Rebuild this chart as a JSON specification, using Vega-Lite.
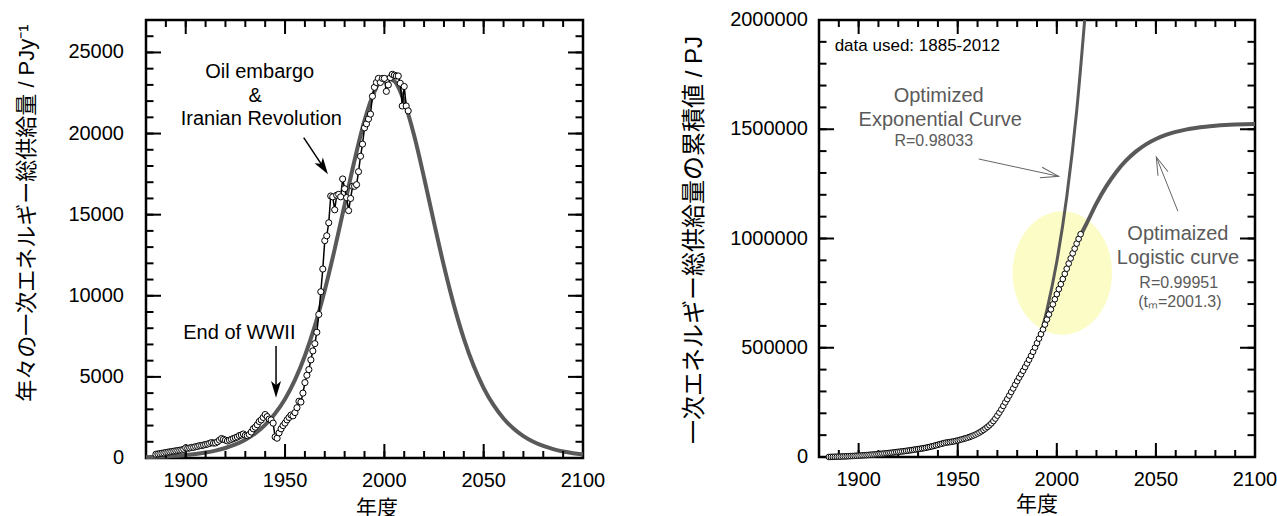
{
  "$schema": "https://vega.github.io/schema/vega-lite/v6.json",
  "padding": {"left": 14, "top": 8, "right": 0, "bottom": 0},
  "bounds": "flush",
  "spacing": 236,
  "config": {
    "view": {"stroke": "black", "strokeWidth": 2.5},
    "text": {"font": "Liberation Sans, Noto Sans CJK JP"},
    "rule": {"color": "black", "strokeWidth": 2}
  },
  "datasets": {
    "xMajor": [{"t":1900},{"t":1950},{"t":2000},{"t":2050}],
    "xMinor": [{"t":1890},{"t":1900},{"t":1910},{"t":1920},{"t":1930},{"t":1940},{"t":1950},{"t":1960},{"t":1970},{"t":1980},{"t":1990},{"t":2000},{"t":2010},{"t":2020},{"t":2030},{"t":2040},{"t":2050},{"t":2060},{"t":2070},{"t":2080},{"t":2090}],
    "yMajL": [{"t":5000},{"t":10000},{"t":15000},{"t":20000},{"t":25000}],
    "yMinL": [{"t":1000},{"t":2000},{"t":3000},{"t":4000},{"t":5000},{"t":6000},{"t":7000},{"t":8000},{"t":9000},{"t":10000},{"t":11000},{"t":12000},{"t":13000},{"t":14000},{"t":15000},{"t":16000},{"t":17000},{"t":18000},{"t":19000},{"t":20000},{"t":21000},{"t":22000},{"t":23000},{"t":24000},{"t":25000},{"t":26000}],
    "yMajR": [{"t":500000},{"t":1000000},{"t":1500000}],
    "yMinR": [{"t":100000},{"t":200000},{"t":300000},{"t":400000},{"t":500000},{"t":600000},{"t":700000},{"t":800000},{"t":900000},{"t":1000000},{"t":1100000},{"t":1200000},{"t":1300000},{"t":1400000},{"t":1500000},{"t":1600000},{"t":1700000},{"t":1800000},{"t":1900000}],
    "xLab": [{"t":1900,"lab":"1900"},{"t":1950,"lab":"1950"},{"t":2000,"lab":"2000"},{"t":2050,"lab":"2050"},{"t":2100,"lab":"2100"}],
    "yLabL": [{"t":0,"lab":"0"},{"t":5000,"lab":"5000"},{"t":10000,"lab":"10000"},{"t":15000,"lab":"15000"},{"t":20000,"lab":"20000"},{"t":25000,"lab":"25000"}],
    "yLabR": [{"t":0,"lab":"0"},{"t":500000,"lab":"500000"},{"t":1000000,"lab":"1000000"},{"t":1500000,"lab":"1500000"},{"t":2000000,"lab":"2000000"}],
    "annual": [
      {"year":1885,"v":230},{"year":1886,"v":250},{"year":1887,"v":270},{"year":1888,"v":290},{"year":1889,"v":310},{"year":1890,"v":340},{"year":1891,"v":360},{"year":1892,"v":380},{"year":1893,"v":400},{"year":1894,"v":420},{"year":1895,"v":440},{"year":1896,"v":460},{"year":1897,"v":480},{"year":1898,"v":500},{"year":1899,"v":540},{"year":1900,"v":620},{"year":1901,"v":600},{"year":1902,"v":620},{"year":1903,"v":650},{"year":1904,"v":660},{"year":1905,"v":700},{"year":1906,"v":720},{"year":1907,"v":760},{"year":1908,"v":770},{"year":1909,"v":800},{"year":1910,"v":830},{"year":1911,"v":860},{"year":1912,"v":900},{"year":1913,"v":950},{"year":1914,"v":920},{"year":1915,"v":930},{"year":1916,"v":1000},{"year":1917,"v":1100},{"year":1918,"v":1200},{"year":1919,"v":1150},{"year":1920,"v":1100},{"year":1921,"v":1050},{"year":1922,"v":1100},{"year":1923,"v":1150},{"year":1924,"v":1200},{"year":1925,"v":1250},{"year":1926,"v":1300},{"year":1927,"v":1380},{"year":1928,"v":1420},{"year":1929,"v":1480},{"year":1930,"v":1400},{"year":1931,"v":1380},{"year":1932,"v":1450},{"year":1933,"v":1600},{"year":1934,"v":1800},{"year":1935,"v":1900},{"year":1936,"v":2050},{"year":1937,"v":2250},{"year":1938,"v":2350},{"year":1939,"v":2500},{"year":1940,"v":2680},{"year":1941,"v":2550},{"year":1942,"v":2400},{"year":1943,"v":2350},{"year":1944,"v":2150},{"year":1945,"v":1300},{"year":1946,"v":1220},{"year":1947,"v":1550},{"year":1948,"v":1800},{"year":1949,"v":2000},{"year":1950,"v":2150},{"year":1951,"v":2350},{"year":1952,"v":2500},{"year":1953,"v":2650},{"year":1954,"v":2600},{"year":1955,"v":2800},{"year":1956,"v":3100},{"year":1957,"v":3500},{"year":1958,"v":3450},{"year":1959,"v":4000},{"year":1960,"v":4650},{"year":1961,"v":5100},{"year":1962,"v":5450},{"year":1963,"v":6050},{"year":1964,"v":6600},{"year":1965,"v":7050},{"year":1966,"v":7750},{"year":1967,"v":8850},{"year":1968,"v":10250},{"year":1969,"v":11650},{"year":1970,"v":13400},{"year":1971,"v":13700},{"year":1972,"v":14500},{"year":1973,"v":16150},{"year":1974,"v":16100},{"year":1975,"v":15300},{"year":1976,"v":16200},{"year":1977,"v":16250},{"year":1978,"v":16100},{"year":1979,"v":17200},{"year":1980,"v":16600},{"year":1981,"v":16050},{"year":1982,"v":15250},{"year":1983,"v":16000},{"year":1984,"v":16750},{"year":1985,"v":16750},{"year":1986,"v":16850},{"year":1987,"v":17650},{"year":1988,"v":18600},{"year":1989,"v":19350},{"year":1990,"v":20350},{"year":1991,"v":20600},{"year":1992,"v":20900},{"year":1993,"v":21200},{"year":1994,"v":22300},{"year":1995,"v":22850},{"year":1996,"v":23150},{"year":1997,"v":23400},{"year":1998,"v":23150},{"year":1999,"v":23400},{"year":2000,"v":23400},{"year":2001,"v":22600},{"year":2002,"v":23000},{"year":2003,"v":23450},{"year":2004,"v":23650},{"year":2005,"v":23600},{"year":2006,"v":23550},{"year":2007,"v":23550},{"year":2008,"v":23100},{"year":2009,"v":21700},{"year":2010,"v":22900},{"year":2011,"v":21700},{"year":2012,"v":21400}
    ],
    "fitL": [
      {"year":1880,"v":53},{"year":1885,"v":73},{"year":1890,"v":99},{"year":1895,"v":134},{"year":1900,"v":182},{"year":1905,"v":247},{"year":1910,"v":336},{"year":1915,"v":455},{"year":1920,"v":617},{"year":1925,"v":836},{"year":1930,"v":1129},{"year":1935,"v":1522},{"year":1940,"v":2046},{"year":1945,"v":2740},{"year":1950,"v":3643},{"year":1955,"v":4816},{"year":1960,"v":6305},{"year":1965,"v":8146},{"year":1970,"v":10347},{"year":1975,"v":12877},{"year":1980,"v":15620},{"year":1985,"v":18356},{"year":1990,"v":20797},{"year":1995,"v":22590},{"year":2000,"v":23450},{"year":2005,"v":23230},{"year":2010,"v":21965},{"year":2015,"v":19873},{"year":2020,"v":17277},{"year":2025,"v":14510},{"year":2030,"v":11832},{"year":2035,"v":9423},{"year":2040,"v":7362},{"year":2045,"v":5668},{"year":2050,"v":4313},{"year":2055,"v":3254},{"year":2060,"v":2439},{"year":2065,"v":1819},{"year":2070,"v":1352},{"year":2075,"v":1001},{"year":2080,"v":741},{"year":2085,"v":547},{"year":2090,"v":403},{"year":2095,"v":297},{"year":2100,"v":219}
    ],
    "cum": [
      {"year":1885,"c":230},{"year":1886,"c":480},{"year":1887,"c":750},{"year":1888,"c":1040},{"year":1889,"c":1350},{"year":1890,"c":1690},{"year":1891,"c":2050},{"year":1892,"c":2430},{"year":1893,"c":2830},{"year":1894,"c":3250},{"year":1895,"c":3690},{"year":1896,"c":4150},{"year":1897,"c":4630},{"year":1898,"c":5130},{"year":1899,"c":5670},{"year":1900,"c":6290},{"year":1901,"c":6890},{"year":1902,"c":7510},{"year":1903,"c":8160},{"year":1904,"c":8820},{"year":1905,"c":9520},{"year":1906,"c":10240},{"year":1907,"c":11000},{"year":1908,"c":11770},{"year":1909,"c":12570},{"year":1910,"c":13400},{"year":1911,"c":14260},{"year":1912,"c":15160},{"year":1913,"c":16110},{"year":1914,"c":17030},{"year":1915,"c":17960},{"year":1916,"c":18960},{"year":1917,"c":20060},{"year":1918,"c":21260},{"year":1919,"c":22410},{"year":1920,"c":23510},{"year":1921,"c":24560},{"year":1922,"c":25660},{"year":1923,"c":26810},{"year":1924,"c":28010},{"year":1925,"c":29260},{"year":1926,"c":30560},{"year":1927,"c":31940},{"year":1928,"c":33360},{"year":1929,"c":34840},{"year":1930,"c":36240},{"year":1931,"c":37620},{"year":1932,"c":39070},{"year":1933,"c":40670},{"year":1934,"c":42470},{"year":1935,"c":44370},{"year":1936,"c":46420},{"year":1937,"c":48670},{"year":1938,"c":51020},{"year":1939,"c":53520},{"year":1940,"c":56200},{"year":1941,"c":58750},{"year":1942,"c":61150},{"year":1943,"c":63500},{"year":1944,"c":65650},{"year":1945,"c":66950},{"year":1946,"c":68170},{"year":1947,"c":69720},{"year":1948,"c":71520},{"year":1949,"c":73520},{"year":1950,"c":75670},{"year":1951,"c":78020},{"year":1952,"c":80520},{"year":1953,"c":83170},{"year":1954,"c":85770},{"year":1955,"c":88570},{"year":1956,"c":91670},{"year":1957,"c":95170},{"year":1958,"c":98620},{"year":1959,"c":102620},{"year":1960,"c":107270},{"year":1961,"c":112370},{"year":1962,"c":117820},{"year":1963,"c":123870},{"year":1964,"c":130470},{"year":1965,"c":137520},{"year":1966,"c":145270},{"year":1967,"c":154120},{"year":1968,"c":164370},{"year":1969,"c":176020},{"year":1970,"c":189420},{"year":1971,"c":203120},{"year":1972,"c":217620},{"year":1973,"c":233770},{"year":1974,"c":249870},{"year":1975,"c":265170},{"year":1976,"c":281370},{"year":1977,"c":297620},{"year":1978,"c":313720},{"year":1979,"c":330920},{"year":1980,"c":347520},{"year":1981,"c":363570},{"year":1982,"c":378820},{"year":1983,"c":394820},{"year":1984,"c":411570},{"year":1985,"c":428320},{"year":1986,"c":445170},{"year":1987,"c":462820},{"year":1988,"c":481420},{"year":1989,"c":500770},{"year":1990,"c":521120},{"year":1991,"c":541720},{"year":1992,"c":562620},{"year":1993,"c":583820},{"year":1994,"c":606120},{"year":1995,"c":628970},{"year":1996,"c":652120},{"year":1997,"c":675520},{"year":1998,"c":698670},{"year":1999,"c":722070},{"year":2000,"c":745470},{"year":2001,"c":768070},{"year":2002,"c":791070},{"year":2003,"c":814520},{"year":2004,"c":838170},{"year":2005,"c":861770},{"year":2006,"c":885320},{"year":2007,"c":908870},{"year":2008,"c":931970},{"year":2009,"c":953670},{"year":2010,"c":976570},{"year":2011,"c":998270},{"year":2012,"c":1019670}
    ],
    "fitLog": [
      {"year":2012,"c":1015000},{"year":2015,"c":1068100},{"year":2020,"c":1160600},{"year":2025,"c":1239500},{"year":2030,"c":1304600},{"year":2035,"c":1357100},{"year":2040,"c":1398500},{"year":2045,"c":1430700},{"year":2050,"c":1455200},{"year":2055,"c":1473800},{"year":2060,"c":1487800},{"year":2065,"c":1498200},{"year":2070,"c":1506000},{"year":2075,"c":1511800},{"year":2080,"c":1516000},{"year":2085,"c":1519200},{"year":2090,"c":1521500},{"year":2095,"c":1523200},{"year":2100,"c":1524500}
    ],
    "fitExp": [
      {"year":1990,"c":506000},{"year":1995,"c":672800},{"year":2000,"c":894700},{"year":2005,"c":1189800},{"year":2010,"c":1582100},{"year":2015,"c":2103800}
    ]
  },
  "hconcat": [
    {
      "width": 437,
      "height": 438,
      "layer": [
        {
          "data": {"name": "fitL"},
          "mark": {"type": "line", "color": "#595959", "strokeWidth": 4, "interpolate": "monotone"},
          "encoding": {
            "x": {"field": "year", "type": "quantitative", "scale": {"domain": [1880, 2100], "nice": false, "zero": false}, "axis": null},
            "y": {"field": "v", "type": "quantitative", "scale": {"domain": [0, 27000], "nice": false}, "axis": null}
          }
        },
        {"data": {"name": "xMajor"}, "mark": {"type": "rule", "y2Offset": -14},
         "encoding": {"x": {"field": "t", "type": "quantitative", "axis": null}, "y": {"datum": 0, "type": "quantitative", "axis": null}, "y2": {"datum": 0}}},
        {"data": {"name": "xMinor"}, "mark": {"type": "rule", "y2Offset": -7},
         "encoding": {"x": {"field": "t", "type": "quantitative", "axis": null}, "y": {"datum": 0, "type": "quantitative", "axis": null}, "y2": {"datum": 0}}},
        {"data": {"name": "xMajor"}, "mark": {"type": "rule", "y2Offset": 14},
         "encoding": {"x": {"field": "t", "type": "quantitative", "axis": null}, "y": {"datum": 27000, "type": "quantitative", "axis": null}, "y2": {"datum": 27000}}},
        {"data": {"name": "xMinor"}, "mark": {"type": "rule", "y2Offset": 7},
         "encoding": {"x": {"field": "t", "type": "quantitative", "axis": null}, "y": {"datum": 27000, "type": "quantitative", "axis": null}, "y2": {"datum": 27000}}},
        {"data": {"name": "yMajL"}, "mark": {"type": "rule", "x2Offset": 15},
         "encoding": {"y": {"field": "t", "type": "quantitative", "axis": null}, "x": {"datum": 1880, "type": "quantitative", "axis": null}, "x2": {"datum": 1880}}},
        {"data": {"name": "yMinL"}, "mark": {"type": "rule", "x2Offset": 7.5},
         "encoding": {"y": {"field": "t", "type": "quantitative", "axis": null}, "x": {"datum": 1880, "type": "quantitative", "axis": null}, "x2": {"datum": 1880}}},
        {"data": {"name": "yMajL"}, "mark": {"type": "rule", "x2Offset": -15},
         "encoding": {"y": {"field": "t", "type": "quantitative", "axis": null}, "x": {"datum": 2100, "type": "quantitative", "axis": null}, "x2": {"datum": 2100}}},
        {"data": {"name": "yMinL"}, "mark": {"type": "rule", "x2Offset": -7.5},
         "encoding": {"y": {"field": "t", "type": "quantitative", "axis": null}, "x": {"datum": 2100, "type": "quantitative", "axis": null}, "x2": {"datum": 2100}}},
        {"data": {"name": "xLab"}, "mark": {"type": "text", "fontSize": 20, "color": "black", "align": "center", "baseline": "top", "dy": 13},
         "encoding": {"x": {"field": "t", "type": "quantitative", "axis": null}, "y": {"datum": 0, "type": "quantitative", "axis": null}, "text": {"field": "lab", "type": "nominal"}}},
        {"data": {"name": "yLabL"}, "mark": {"type": "text", "fontSize": 20, "color": "black", "align": "right", "baseline": "middle", "dx": -22},
         "encoding": {"y": {"field": "t", "type": "quantitative", "axis": null}, "x": {"datum": 1880, "type": "quantitative", "axis": null}, "text": {"field": "lab", "type": "nominal"}}},
        {"data": {"values": [{"year": 1996.3, "v": 0, "t": "年度"}]}, "mark": {"type": "text", "fontSize": 21, "color": "black", "align": "center", "baseline": "middle", "dy": 51},
         "encoding": {"x": {"field": "year", "type": "quantitative", "axis": null}, "y": {"field": "v", "type": "quantitative", "axis": null}, "text": {"field": "t", "type": "nominal"}}},
        {"data": {"values": [{"year": 1880, "v": 15100, "t": "年々の一次エネルギー総供給量 / PJy⁻¹"}]}, "mark": {"type": "text", "fontSize": 22, "color": "black", "align": "center", "baseline": "middle", "angle": 270, "dy": -119},
         "encoding": {"x": {"field": "year", "type": "quantitative", "axis": null}, "y": {"field": "v", "type": "quantitative", "axis": null}, "text": {"field": "t", "type": "nominal"}}},
        {
          "data": {"name": "annual"},
          "mark": {"type": "line", "color": "black", "strokeWidth": 1.5},
          "encoding": {
            "x": {"field": "year", "type": "quantitative", "axis": null},
            "y": {"field": "v", "type": "quantitative", "axis": null}
          }
        },
        {
          "data": {"name": "annual"},
          "mark": {"type": "point", "shape": "circle", "filled": true, "fill": "white", "stroke": "black", "strokeWidth": 1, "size": 38, "opacity": 1},
          "encoding": {
            "x": {"field": "year", "type": "quantitative", "axis": null},
            "y": {"field": "v", "type": "quantitative", "axis": null}
          }
        },
        {
          "data": {"values": [
            {"year": 1937.25, "v": 23795, "t": "Oil embargo"},
            {"year": 1935.0, "v": 22315, "t": "&"},
            {"year": 1938.05, "v": 20879, "t": "Iranian Revolution"},
            {"year": 1927.0, "v": 7724, "t": "End of WWII"}
          ]},
          "mark": {"type": "text", "fontSize": 20, "color": "black", "align": "center", "baseline": "middle"},
          "encoding": {
            "x": {"field": "year", "type": "quantitative", "axis": null},
            "y": {"field": "v", "type": "quantitative", "axis": null},
            "text": {"field": "t", "type": "nominal"}
          }
        },
        {
          "data": {"values": [
            {"xa": 1945.46, "ya": 6905, "xb": 1945.46, "yb": 4100},
            {"xa": 1959.4, "ya": 19747, "xb": 1970.5, "yb": 17700}
          ]},
          "mark": {"type": "rule", "color": "black", "strokeWidth": 1.5},
          "encoding": {
            "x": {"field": "xa", "type": "quantitative", "axis": null},
            "x2": {"field": "xb"},
            "y": {"field": "ya", "type": "quantitative", "axis": null},
            "y2": {"field": "yb"}
          }
        },
        {
          "data": {"values": [{"x": 1945.46, "y": 3718}]},
          "mark": {"type": "point", "shape": "M 0 0 L -0.3 -1 L 0 -0.75 L 0.3 -1 Z", "size": 1115, "filled": true, "color": "black", "opacity": 1, "strokeWidth": 0, "angle": 0},
          "encoding": {
            "x": {"field": "x", "type": "quantitative", "axis": null},
            "y": {"field": "y", "type": "quantitative", "axis": null}
          }
        },
        {
          "data": {"values": [{"x": 1971.6, "y": 17490}]},
          "mark": {"type": "point", "shape": "M 0 0 L -0.3 -1 L 0 -0.75 L 0.3 -1 Z", "size": 1115, "filled": true, "color": "black", "opacity": 1, "strokeWidth": 0, "angle": 326.4},
          "encoding": {
            "x": {"field": "x", "type": "quantitative", "axis": null},
            "y": {"field": "y", "type": "quantitative", "axis": null}
          }
        }
      ]
    },
    {
      "width": 436,
      "height": 437,
      "layer": [
        {
          "data": {"values": [{"year": 2002.75, "c": 842000}]},
          "mark": {"type": "point", "shape": "M -0.8055 0 A 0.8055 1 0 1 0 0.8055 0 A 0.8055 1 0 1 0 -0.8055 0 Z", "size": 15228, "filled": true, "color": "#fcfcc6", "opacity": 1, "strokeWidth": 0},
          "encoding": {
            "x": {"field": "year", "type": "quantitative", "scale": {"domain": [1880, 2100], "nice": false, "zero": false}, "axis": null},
            "y": {"field": "c", "type": "quantitative", "scale": {"domain": [0, 2000000], "nice": false}, "axis": null}
          }
        },
        {"data": {"name": "xMajor"}, "mark": {"type": "rule", "y2Offset": -14},
         "encoding": {"x": {"field": "t", "type": "quantitative", "axis": null}, "y": {"datum": 0, "type": "quantitative", "axis": null}, "y2": {"datum": 0}}},
        {"data": {"name": "xMinor"}, "mark": {"type": "rule", "y2Offset": -7},
         "encoding": {"x": {"field": "t", "type": "quantitative", "axis": null}, "y": {"datum": 0, "type": "quantitative", "axis": null}, "y2": {"datum": 0}}},
        {"data": {"name": "xMajor"}, "mark": {"type": "rule", "y2Offset": 14},
         "encoding": {"x": {"field": "t", "type": "quantitative", "axis": null}, "y": {"datum": 2000000, "type": "quantitative", "axis": null}, "y2": {"datum": 2000000}}},
        {"data": {"name": "xMinor"}, "mark": {"type": "rule", "y2Offset": 7},
         "encoding": {"x": {"field": "t", "type": "quantitative", "axis": null}, "y": {"datum": 2000000, "type": "quantitative", "axis": null}, "y2": {"datum": 2000000}}},
        {"data": {"name": "yMajR"}, "mark": {"type": "rule", "x2Offset": 15},
         "encoding": {"y": {"field": "t", "type": "quantitative", "axis": null}, "x": {"datum": 1880, "type": "quantitative", "axis": null}, "x2": {"datum": 1880}}},
        {"data": {"name": "yMinR"}, "mark": {"type": "rule", "x2Offset": 7.5},
         "encoding": {"y": {"field": "t", "type": "quantitative", "axis": null}, "x": {"datum": 1880, "type": "quantitative", "axis": null}, "x2": {"datum": 1880}}},
        {"data": {"name": "yMajR"}, "mark": {"type": "rule", "x2Offset": -15},
         "encoding": {"y": {"field": "t", "type": "quantitative", "axis": null}, "x": {"datum": 2100, "type": "quantitative", "axis": null}, "x2": {"datum": 2100}}},
        {"data": {"name": "yMinR"}, "mark": {"type": "rule", "x2Offset": -7.5},
         "encoding": {"y": {"field": "t", "type": "quantitative", "axis": null}, "x": {"datum": 2100, "type": "quantitative", "axis": null}, "x2": {"datum": 2100}}},
        {"data": {"name": "xLab"}, "mark": {"type": "text", "fontSize": 20, "color": "black", "align": "center", "baseline": "top", "dy": 13},
         "encoding": {"x": {"field": "t", "type": "quantitative", "axis": null}, "y": {"datum": 0, "type": "quantitative", "axis": null}, "text": {"field": "lab", "type": "nominal"}}},
        {"data": {"name": "yLabR"}, "mark": {"type": "text", "fontSize": 20, "color": "black", "align": "right", "baseline": "middle", "dx": -11},
         "encoding": {"y": {"field": "t", "type": "quantitative", "axis": null}, "x": {"datum": 1880, "type": "quantitative", "axis": null}, "text": {"field": "lab", "type": "nominal"}}},
        {"data": {"values": [{"year": 1990.0, "c": 0, "t": "年度"}]}, "mark": {"type": "text", "fontSize": 21, "color": "black", "align": "center", "baseline": "middle", "dy": 48},
         "encoding": {"x": {"field": "year", "type": "quantitative", "axis": null}, "y": {"field": "c", "type": "quantitative", "axis": null}, "text": {"field": "t", "type": "nominal"}}},
        {"data": {"values": [{"year": 1880, "c": 993000, "t": "一次エネルギー総供給量の累積値 / PJ"}]}, "mark": {"type": "text", "fontSize": 24, "color": "black", "align": "center", "baseline": "middle", "angle": 270, "dy": -124},
         "encoding": {"x": {"field": "year", "type": "quantitative", "axis": null}, "y": {"field": "c", "type": "quantitative", "axis": null}, "text": {"field": "t", "type": "nominal"}}},
        {
          "data": {"name": "fitExp"},
          "mark": {"type": "line", "color": "#595959", "strokeWidth": 3, "interpolate": "monotone", "clip": true},
          "encoding": {
            "x": {"field": "year", "type": "quantitative", "axis": null},
            "y": {"field": "c", "type": "quantitative", "axis": null}
          }
        },
        {
          "data": {"name": "fitLog"},
          "mark": {"type": "line", "color": "#595959", "strokeWidth": 4, "interpolate": "monotone"},
          "encoding": {
            "x": {"field": "year", "type": "quantitative", "axis": null},
            "y": {"field": "c", "type": "quantitative", "axis": null}
          }
        },
        {
          "data": {"name": "cum"},
          "mark": {"type": "point", "shape": "circle", "filled": true, "fill": "white", "stroke": "black", "strokeWidth": 1, "size": 32, "opacity": 1},
          "encoding": {
            "x": {"field": "year", "type": "quantitative", "axis": null},
            "y": {"field": "c", "type": "quantitative", "axis": null}
          }
        },
        {
          "data": {"values": [
            {"year": 1940.4, "c": 1653500, "t": "Optimized"},
            {"year": 1941.2, "c": 1543700, "t": "Exponential Curve"},
            {"year": 2061.1, "c": 1020600, "t": "Optimaized"},
            {"year": 2061.1, "c": 910800, "t": "Logistic curve"}
          ]},
          "mark": {"type": "text", "fontSize": 20, "color": "#5a5a5a", "align": "center", "baseline": "middle"},
          "encoding": {
            "x": {"field": "year", "type": "quantitative", "axis": null},
            "y": {"field": "c", "type": "quantitative", "axis": null},
            "text": {"field": "t", "type": "nominal"}
          }
        },
        {
          "data": {"values": [
            {"year": 1937.9, "c": 1444900, "t": "R=0.98033"},
            {"year": 2061.5, "c": 796300, "t": "R=0.99951"},
            {"year": 2062.1, "c": 708000, "t": "(tₘ=2001.3)"}
          ]},
          "mark": {"type": "text", "fontSize": 16, "color": "#5a5a5a", "align": "center", "baseline": "middle"},
          "encoding": {
            "x": {"field": "year", "type": "quantitative", "axis": null},
            "y": {"field": "c", "type": "quantitative", "axis": null},
            "text": {"field": "t", "type": "nominal"}
          }
        },
        {
          "data": {"values": [{"year": 1887.9, "c": 1879600, "t": "data used: 1885-2012"}]},
          "mark": {"type": "text", "fontSize": 17, "color": "black", "align": "left", "baseline": "middle"},
          "encoding": {
            "x": {"field": "year", "type": "quantitative", "axis": null},
            "y": {"field": "c", "type": "quantitative", "axis": null},
            "text": {"field": "t", "type": "nominal"}
          }
        },
        {
          "data": {"values": [
            {"xa": 1960.6, "ya": 1363800, "xb": 2000.9, "yb": 1284700},
            {"xa": 2061.1, "ya": 1124500, "xb": 2050.2, "yb": 1373000}
          ]},
          "mark": {"type": "rule", "color": "#666666", "strokeWidth": 1},
          "encoding": {
            "x": {"field": "xa", "type": "quantitative", "axis": null},
            "x2": {"field": "xb"},
            "y": {"field": "ya", "type": "quantitative", "axis": null},
            "y2": {"field": "yb"}
          }
        },
        {
          "data": {"values": [{"x": 2000.9, "y": 1284700}]},
          "mark": {"type": "point", "shape": "M -0.3 -1 L 0 0 L 0.3 -1", "size": 1296, "filled": false, "stroke": "#666666", "strokeWidth": 1, "opacity": 1, "angle": 282.2},
          "encoding": {
            "x": {"field": "x", "type": "quantitative", "axis": null},
            "y": {"field": "y", "type": "quantitative", "axis": null}
          }
        },
        {
          "data": {"values": [{"x": 2050.2, "y": 1373000}]},
          "mark": {"type": "point", "shape": "M -0.3 -1 L 0 0 L 0.3 -1", "size": 1296, "filled": false, "stroke": "#666666", "strokeWidth": 1, "opacity": 1, "angle": 158.2},
          "encoding": {
            "x": {"field": "x", "type": "quantitative", "axis": null},
            "y": {"field": "y", "type": "quantitative", "axis": null}
          }
        }
      ]
    }
  ]
}
